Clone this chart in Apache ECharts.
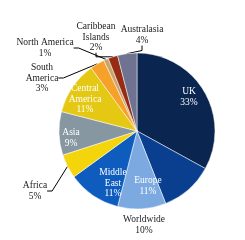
<!DOCTYPE html>
<html><head><meta charset="utf-8">
<script src="https://cdn.jsdelivr.net/npm/echarts@6/dist/echarts.min.js"></script>
<style>html,body{margin:0;padding:0;background:#fff}#c{width:245px;height:240px}</style>
</head><body><div id="c"></div>
<script>
const categories = ["UK","Europe","Worldwide","Middle East","Africa","Asia","Central America","South America","North America","Caribbean Islands","Australasia"];
const labelNames = ["UK","Europe","Worldwide","Middle\nEast","Africa","Asia","Central\nAmerica","South\nAmerica","North America","Caribbean\nIslands","Australasia"];
const values = [33,11,10,11,5,9,11,3,1,2,4];
const colors = ["#0a2550","#0a3f8f","#7caae0","#0f5cbf","#f4d50c","#8797a2","#e4c814","#f5a12a","#c9a46b","#972c15","#6f7290"];
const insideIdx = [0,1,3,5,6];
const labelPos = [[189,97],[148,186],[144,225],[113,183],[35,191],[71,138],[85,99],[42,78],[45,48],[96,37],[142,35]];

const chart = echarts.init(document.getElementById('c'), null, {renderer:'canvas'});
const data = categories.map((c,i)=>({
  name: c, value: values[i],
  itemStyle:{color: colors[i]},
  label:{
    formatter: labelNames[i] + "\n" + values[i] + "%",
    color: insideIdx.includes(i) ? "#ffffff" : "#1a1a1a"
  },
  labelLine:{show: !(insideIdx.includes(i) || i===2)}
}));
chart.setOption({
  animation:false,
  series:[{
    type:'pie',
    center:[137,131],
    radius:[0,78],
    startAngle:90,
    clockwise:true,
    data:data,
    itemStyle:{borderWidth:0.5,borderColor:'#ffffff'},
    label:{show:true,position:'outside',fontFamily:'Liberation Serif',fontSize:9.5,lineHeight:10.5,align:'center',overflow:'none'},
    labelLine:{lineStyle:{color:'#000',width:1},length:5,length2:5},
    labelLayout:function(p){
      const pos = labelPos[p.dataIndex];
      return {x:pos[0], y:pos[1], align:'center', verticalAlign:'middle', hideOverlap:false};
    }
  }]
});
</script></body></html>
